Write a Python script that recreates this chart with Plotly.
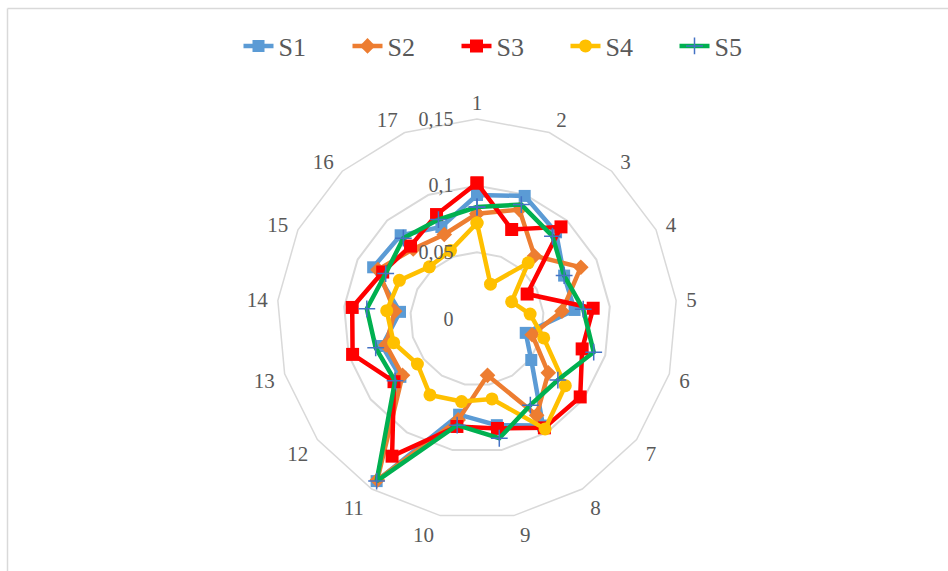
import plotly.graph_objects as go

categories = [str(i) for i in range(1, 18)]
series_names = ["S1", "S2", "S3", "S4", "S5"]
s1 = [0.093, 0.099, 0.088, 0.073, 0.0735, 0.038, 0.051, 0.094, 0.081, 0.073, 0.143, 0.072, 0.074, 0.058, 0.087, 0.085, 0.074]
s2 = [0.079, 0.088, 0.064, 0.087, 0.064, 0.043, 0.067, 0.085, 0.043, 0.077, 0.142, 0.070, 0.071, 0.062, 0.083, 0.071, 0.068]
s3 = [0.102, 0.072, 0.0935, 0.042, 0.0875, 0.082, 0.097, 0.096, 0.0835, 0.082, 0.121, 0.078, 0.097, 0.094, 0.079, 0.074, 0.084]
s4 = [0.072, 0.028, 0.057, 0.029, 0.040, 0.052, 0.083, 0.097, 0.061, 0.063, 0.067, 0.056, 0.065, 0.068, 0.065, 0.053, 0.055]
s5 = [0.084, 0.092, 0.084, 0.073, 0.080, 0.091, 0.076, 0.076, 0.091, 0.081, 0.143, 0.077, 0.079, 0.083, 0.0765, 0.082, 0.080]
tick_vals = [0, 0.05, 0.1, 0.15]
tick_text = ["0", "0,05", "0,1", "0,15"]

values = [s1, s2, s3, s4, s5]
colors = ["#5b9bd5", "#ed7d31", "#ff0000", "#ffc000", "#00b050"]
markers = [
    dict(symbol="square", size=12),
    dict(symbol="diamond", size=12),
    dict(symbol="square", size=13),
    dict(symbol="circle", size=13),
    dict(symbol="cross-thin", size=12, line=dict(color="#4472c4", width=1.5)),
]

FONT = "'Liberation Serif', 'Times New Roman', serif"
TXT = "#595959"
NB = "\u00a0"
PAD = NB * 4  # shifts the radial labels to the left of the axis, as in the original

fig = go.Figure()
for name, vals, col, mk in zip(series_names, values, colors, markers):
    m = dict(color=col if name != "S5" else "#4472c4", **mk)
    fig.add_trace(go.Scatterpolar(
        r=vals + vals[:1],
        theta=categories + categories[:1],
        mode="lines+markers",
        name=name,
        line=dict(color=col, width=4.5),
        marker=m,
    ))

fig.update_layout(
    width=948, height=571,
    margin=dict(l=0, r=0, t=0, b=0),
    paper_bgcolor="white",
    plot_bgcolor="white",
    font=dict(family=FONT, color=TXT, size=21),
    showlegend=True,
    legend=dict(orientation="h", x=511 / 948, xanchor="center", y=1 - 46 / 571, yanchor="middle",
                entrywidth=64, entrywidthmode="pixels",
                font=dict(family=FONT, size=26, color=TXT), bgcolor="rgba(0,0,0,0)"),
    polar=dict(
        domain=dict(x=[277 / 948, 677 / 948], y=[1 - 519 / 571, 1 - 119 / 571]),
        bgcolor="white",
        gridshape="linear",
        radialaxis=dict(
            range=[0, 0.15], tickvals=tick_vals, ticktext=[t + PAD for t in tick_text],
            angle=90, tickangle=90, side="counterclockwise",
            showline=False, ticks="", gridcolor="#d9d9d9", gridwidth=1.5,
            tickfont=dict(family=FONT, size=20, color=TXT),
        ),
        angularaxis=dict(
            direction="clockwise", rotation=90, type="category",
            categoryarray=categories,
            tickvals=categories, ticktext=[NB + c + NB for c in categories],
            showgrid=False, showline=True, linecolor="#d9d9d9", linewidth=1.5,
            ticks="", tickfont=dict(family=FONT, size=21, color=TXT),
        ),
    ),
    shapes=[
        dict(type="line", xref="paper", yref="paper", x0=7.5 / 948, x1=1.01, y0=1 - 8.5 / 571, y1=1 - 8.5 / 571,
             line=dict(color="#d9d9d9", width=1.5)),
        dict(type="line", xref="paper", yref="paper", x0=7.5 / 948, x1=7.5 / 948, y0=-0.01, y1=1 - 8.5 / 571,
             line=dict(color="#d9d9d9", width=1.5)),
    ],
)

fig.write_html("out.html", config={"displayModeBar": False},
               post_script="document.body.style.margin='0px';document.body.style.overflow='hidden';")
